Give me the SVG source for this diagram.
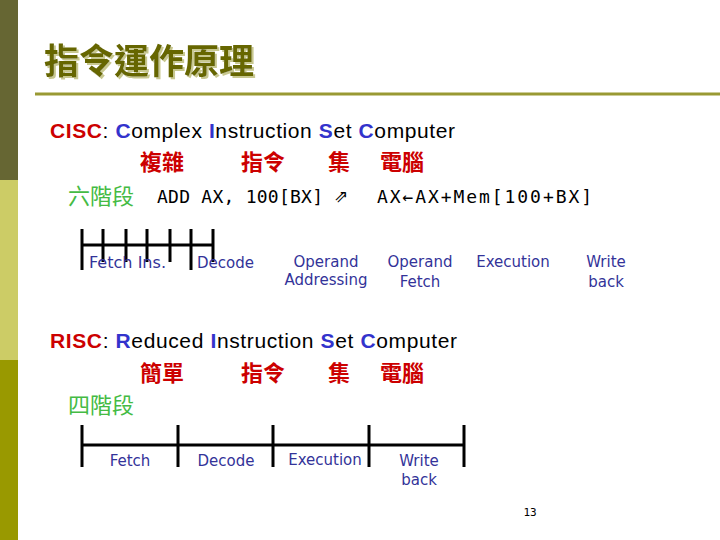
<svg xmlns="http://www.w3.org/2000/svg" width="720" height="540" viewBox="0 0 720 540">
<style>
.t{font-family:"Noto Sans CJK TC","Noto Sans CJK SC",sans-serif;font-weight:bold;}
.en{font-family:"Liberation Sans",Arial,sans-serif;font-size:21px;fill:#000;}
.r{fill:#cc0000;font-weight:bold;}
.b{fill:#3333cc;font-weight:bold;}
.cn{font-family:"Noto Sans CJK TC","Noto Sans CJK SC",sans-serif;font-size:22px;font-weight:bold;fill:#cc0000;}
.g{font-family:"Noto Sans CJK TC","Noto Sans CJK SC",sans-serif;font-size:22px;fill:#44bb44;}
.m{font-family:"DejaVu Sans Mono",monospace;font-size:18px;fill:#000;}
.lb{font-family:"DejaVu Sans",Verdana,sans-serif;font-size:15px;fill:#333399;}
.tk{stroke:#000;stroke-width:3;fill:none;}
</style>
<defs>
<filter id="sh" x="-5%" y="-20%" width="110%" height="140%">
<feDropShadow dx="2" dy="2" stdDeviation="0.6" flood-color="#c8c890"/>
</filter>
</defs>
<rect x="0" y="0" width="720" height="540" fill="#fff"/>
<g id="sidebar">
<rect x="0" y="0" width="18" height="180" fill="#666633"/>
<rect x="0" y="180" width="18" height="180" fill="#cccc66"/>
<rect x="0" y="360" width="18" height="180" fill="#999900"/>
</g>
<g id="title">
<text x="44" y="74" class="t" font-size="35" fill="#666600" filter="url(#sh)">指令運作原理</text>
<line x1="35" y1="94" x2="720" y2="94" stroke="#999933" stroke-width="3"/>
</g>
<g id="cisc">
<text x="50" y="138" class="en" textLength="405" lengthAdjust="spacing"><tspan class="r">CISC</tspan>: <tspan class="b">C</tspan>omplex <tspan class="b">I</tspan>nstruction <tspan class="b">S</tspan>et <tspan class="b">C</tspan>omputer</text>
<text x="140" y="170" class="cn">複雜</text>
<text x="241" y="170" class="cn">指令</text>
<text x="328" y="170" class="cn">集</text>
<text x="380" y="170" class="cn">電腦</text>
<text x="68" y="204" class="g">六階段</text>
<text x="157" y="203" class="m" textLength="166" lengthAdjust="spacing">ADD AX, 100[BX]</text>
<text x="334" y="202" font-family="DejaVu Sans,sans-serif" font-size="17" fill="#000">⇗</text>
<text x="377" y="203" class="m" textLength="215" lengthAdjust="spacing">AX←AX+Mem[100+BX]</text>
</g>
<g id="cisc-pipeline">
<path class="tk" d="M82,245H213 M82,229V270 M103,229V262 M126,229V262 M147,229V262 M170,229V262 M191,229V270 M213,229V262"/>
<text x="89" y="268" class="lb" textLength="77" lengthAdjust="spacingAndGlyphs">Fetch Ins.</text>
<text x="197" y="268" class="lb">Decode</text>
<text x="326" y="267" class="lb" text-anchor="middle">Operand</text>
<text x="326" y="285" class="lb" text-anchor="middle">Addressing</text>
<text x="420" y="267" class="lb" text-anchor="middle">Operand</text>
<text x="420" y="287" class="lb" text-anchor="middle">Fetch</text>
<text x="513" y="267" class="lb" text-anchor="middle">Execution</text>
<text x="606" y="267" class="lb" text-anchor="middle">Write</text>
<text x="606" y="287" class="lb" text-anchor="middle">back</text>
</g>
<g id="risc">
<text x="50" y="348" class="en" textLength="407" lengthAdjust="spacing"><tspan class="r">RISC</tspan>: <tspan class="b">R</tspan>educed <tspan class="b">I</tspan>nstruction <tspan class="b">S</tspan>et <tspan class="b">C</tspan>omputer</text>
<text x="140" y="381" class="cn">簡單</text>
<text x="241" y="381" class="cn">指令</text>
<text x="328" y="381" class="cn">集</text>
<text x="380" y="381" class="cn">電腦</text>
<text x="68" y="413" class="g">四階段</text>
</g>
<g id="risc-pipeline">
<path class="tk" d="M82,445H464 M82,425V467 M178,425V467 M273,425V467 M369,425V467 M464,425V467"/>
<text x="130" y="466" class="lb" text-anchor="middle">Fetch</text>
<text x="226" y="466" class="lb" text-anchor="middle">Decode</text>
<text x="325" y="465" class="lb" text-anchor="middle">Execution</text>
<text x="419" y="466" class="lb" text-anchor="middle">Write</text>
<text x="419" y="485" class="lb" text-anchor="middle">back</text>
</g>
<text x="530" y="516" font-family="DejaVu Sans Mono,monospace" font-size="11" fill="#000" text-anchor="middle">13</text>
</svg>
